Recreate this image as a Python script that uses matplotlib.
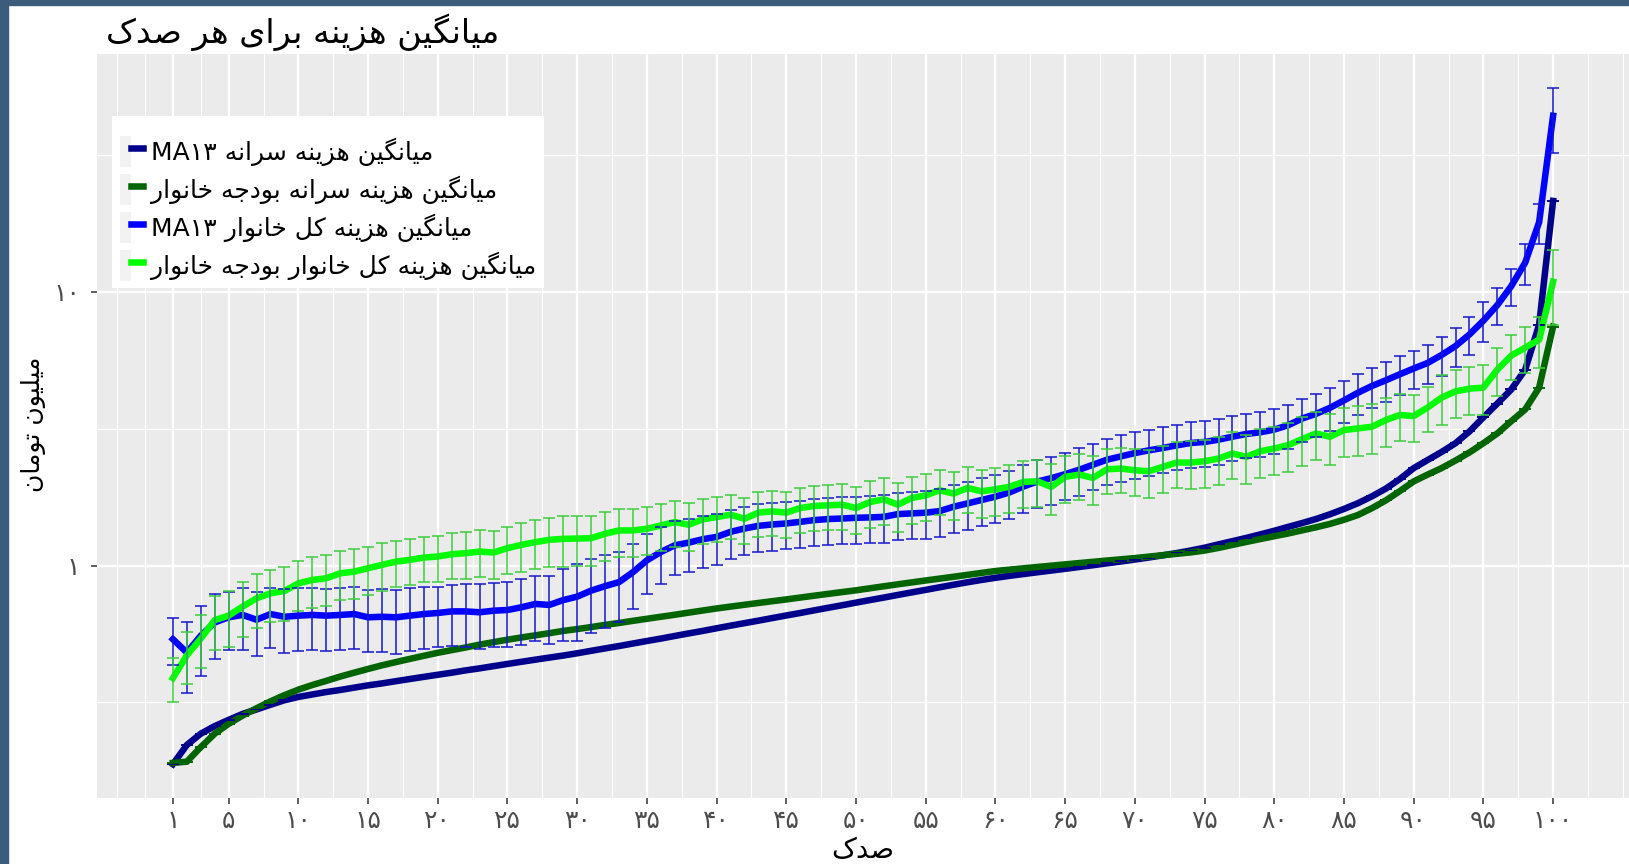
import matplotlib
matplotlib.use("Agg")
import numpy as np
import matplotlib.pyplot as plt
from matplotlib.lines import Line2D
from matplotlib.patches import Patch, Rectangle
from matplotlib.legend_handler import HandlerTuple
from matplotlib.ticker import FixedLocator, NullFormatter

# ---- Persian shaping (matplotlib has no bidi / contextual forms) ----
FORMS = {
    "ا": ("\uFE8D", "\uFE8E", None, None),
    "ب": ("\uFE8F", "\uFE90", "\uFE91", "\uFE92"),
    "ت": ("\uFE95", "\uFE96", "\uFE97", "\uFE98"),
    "ج": ("\uFE9D", "\uFE9E", "\uFE9F", "\uFEA0"),
    "خ": ("\uFEA5", "\uFEA6", "\uFEA7", "\uFEA8"),
    "د": ("\uFEA9", "\uFEAA", None, None),
    "ر": ("\uFEAD", "\uFEAE", None, None),
    "ز": ("\uFEAF", "\uFEB0", None, None),
    "س": ("\uFEB1", "\uFEB2", "\uFEB3", "\uFEB4"),
    "ص": ("\uFEB9", "\uFEBA", "\uFEBB", "\uFEBC"),
    "ل": ("\uFEDD", "\uFEDE", "\uFEDF", "\uFEE0"),
    "م": ("\uFEE1", "\uFEE2", "\uFEE3", "\uFEE4"),
    "ن": ("\uFEE5", "\uFEE6", "\uFEE7", "\uFEE8"),
    "ه": ("\uFEE9", "\uFEEA", "\uFEEB", "\uFEEC"),
    "و": ("\uFEED", "\uFEEE", None, None),
    "ک": ("\uFB8E", "\uFB8F", "\uFB90", "\uFB91"),
    "گ": ("\uFB92", "\uFB93", "\uFB94", "\uFB95"),
    "ی": ("\uFBFC", "\uFBFD", "\uFBFE", "\uFBFF"),
}


def shape_word(w):
    out = []
    for i, ch in enumerate(w):
        if ch not in FORMS:
            out.append(ch)
            continue
        prev = w[i - 1] if i > 0 else None
        nxt = w[i + 1] if i + 1 < len(w) else None
        join_prev = prev in FORMS and FORMS[prev][2] is not None
        join_next = nxt in FORMS and FORMS[ch][2] is not None
        iso, fin, ini, med = FORMS[ch]
        if join_prev and join_next:
            out.append(med)
        elif join_prev:
            out.append(fin)
        elif join_next:
            out.append(ini)
        else:
            out.append(iso)
    return "".join(out)


def fa(text):
    words = text.split(" ")
    vis = []
    for w in words:
        if any(c in FORMS for c in w):
            vis.append(shape_word(w)[::-1])
        else:
            vis.append(w)
    return " ".join(reversed(vis))


# ======= DATA =======
pct = list(range(1, 101))

navy_ma13 = [
    0.188, 0.221, 0.243, 0.259, 0.273, 0.287, 0.298, 0.310, 0.322, 0.331,
    0.338, 0.345, 0.351, 0.358, 0.365, 0.371, 0.378, 0.385, 0.392, 0.399,
    0.406, 0.414, 0.421, 0.429, 0.437, 0.445, 0.453, 0.461, 0.469, 0.478,
    0.488, 0.498, 0.508, 0.519, 0.530, 0.541, 0.553, 0.565, 0.577, 0.590,
    0.603, 0.616, 0.629, 0.643, 0.657, 0.671, 0.686, 0.701, 0.716, 0.732,
    0.748, 0.764, 0.781, 0.798, 0.815, 0.833, 0.851, 0.869, 0.886, 0.902,
    0.917, 0.931, 0.945, 0.959, 0.973, 0.988, 1.003, 1.019, 1.035, 1.052,
    1.070, 1.090, 1.111, 1.135, 1.162, 1.195, 1.228, 1.262, 1.300, 1.340,
    1.385, 1.430, 1.480, 1.540, 1.610, 1.690, 1.790, 1.910, 2.070, 2.270,
    2.430, 2.600, 2.800, 3.090, 3.480, 3.910, 4.400, 5.200, 7.600, 21.50,
]

dgreen_budget = [
    0.190, 0.192, 0.217, 0.243, 0.264, 0.283, 0.301, 0.319, 0.336, 0.352,
    0.366, 0.379, 0.393, 0.406, 0.419, 0.432, 0.444, 0.456, 0.468, 0.480,
    0.491, 0.502, 0.514, 0.525, 0.536, 0.546, 0.556, 0.566, 0.577, 0.586,
    0.596, 0.607, 0.617, 0.628, 0.639, 0.650, 0.661, 0.673, 0.685, 0.697,
    0.708, 0.719, 0.730, 0.741, 0.752, 0.764, 0.776, 0.788, 0.800, 0.812,
    0.826, 0.840, 0.854, 0.868, 0.882, 0.896, 0.910, 0.925, 0.940, 0.955,
    0.966, 0.977, 0.988, 0.999, 1.010, 1.021, 1.032, 1.043, 1.054, 1.065,
    1.078, 1.091, 1.104, 1.117, 1.135, 1.160, 1.190, 1.220, 1.250, 1.280,
    1.310, 1.345, 1.380, 1.420, 1.470, 1.530, 1.620, 1.730, 1.870, 2.030,
    2.150, 2.270, 2.420, 2.590, 2.800, 3.040, 3.370, 3.720, 4.470, 7.470,
]

blue_ma13 = [
    0.538, 0.481, 0.554, 0.620, 0.647, 0.660, 0.634, 0.665, 0.650, 0.656,
    0.660, 0.656, 0.660, 0.665, 0.647, 0.650, 0.647, 0.656, 0.665, 0.671,
    0.680, 0.680, 0.675, 0.684, 0.688, 0.704, 0.724, 0.718, 0.748, 0.770,
    0.810, 0.841, 0.870, 0.946, 1.045, 1.121, 1.186, 1.213, 1.248, 1.273,
    1.328, 1.366, 1.397, 1.413, 1.425, 1.445, 1.466, 1.479, 1.486, 1.495,
    1.499, 1.507, 1.542, 1.551, 1.560, 1.582, 1.641, 1.687, 1.736, 1.786,
    1.850, 1.944, 2.028, 2.086, 2.158, 2.239, 2.336, 2.437, 2.506, 2.577,
    2.636, 2.689, 2.750, 2.805, 2.829, 2.884, 2.958, 3.027, 3.070, 3.140,
    3.258, 3.446, 3.585, 3.772, 4.013, 4.282, 4.530, 4.754, 5.000, 5.250,
    5.500, 5.880, 6.340, 6.990, 7.850, 8.950, 10.50, 12.80, 18.00, 44.00,
]

blue_err = [
    0.105, 0.140, 0.160, 0.165, 0.155, 0.170, 0.165, 0.166, 0.170, 0.170,
    0.168, 0.168, 0.170, 0.168, 0.165, 0.168, 0.170, 0.170, 0.168, 0.165,
    0.170, 0.175, 0.178, 0.180, 0.185, 0.190, 0.195, 0.200, 0.220, 0.240,
    0.245, 0.248, 0.250, 0.250, 0.260, 0.262, 0.265, 0.265, 0.268, 0.270,
    0.272, 0.275, 0.275, 0.278, 0.280, 0.282, 0.285, 0.288, 0.290, 0.292,
    0.295, 0.298, 0.300, 0.305, 0.310, 0.315, 0.325, 0.335, 0.345, 0.360,
    0.375, 0.390, 0.405, 0.415, 0.425, 0.440, 0.455, 0.470, 0.485, 0.500,
    0.505, 0.510, 0.520, 0.530, 0.540, 0.548, 0.555, 0.565, 0.572, 0.580,
    0.600, 0.620, 0.645, 0.670, 0.700, 0.730, 0.760, 0.790, 0.815, 0.840,
    0.900, 0.970, 1.040, 1.100, 1.300, 1.400, 1.600, 2.200, 3.000, 11.70,
]

green_budget = [
    0.388, 0.470, 0.541, 0.632, 0.656, 0.708, 0.759, 0.792, 0.807, 0.861,
    0.886, 0.899, 0.937, 0.950, 0.978, 1.006, 1.034, 1.049, 1.070, 1.079,
    1.100, 1.110, 1.125, 1.116, 1.158, 1.190, 1.218, 1.242, 1.252, 1.255,
    1.259, 1.307, 1.344, 1.344, 1.363, 1.402, 1.442, 1.410, 1.475, 1.504,
    1.534, 1.483, 1.561, 1.578, 1.561, 1.623, 1.651, 1.660, 1.669, 1.623,
    1.707, 1.746, 1.669, 1.766, 1.806, 1.884, 1.832, 1.921, 1.868, 1.900,
    1.940, 2.021, 2.032, 1.938, 2.109, 2.150, 2.091, 2.249, 2.262, 2.230,
    2.211, 2.294, 2.379, 2.379, 2.406, 2.461, 2.568, 2.497, 2.618, 2.679,
    2.755, 2.898, 3.040, 2.955, 3.127, 3.171, 3.216, 3.402, 3.549, 3.520,
    3.780, 4.110, 4.330, 4.430, 4.470, 5.200, 5.850, 6.260, 6.690, 10.90,
]

green_err = [
    0.070, 0.100, 0.120, 0.140, 0.150, 0.160, 0.170, 0.170, 0.180, 0.180,
    0.185, 0.190, 0.190, 0.195, 0.195, 0.200, 0.200, 0.200, 0.200, 0.205,
    0.210, 0.215, 0.220, 0.225, 0.230, 0.240, 0.250, 0.255, 0.260, 0.260,
    0.262, 0.264, 0.265, 0.268, 0.270, 0.272, 0.274, 0.276, 0.278, 0.280,
    0.284, 0.288, 0.292, 0.296, 0.300, 0.304, 0.308, 0.312, 0.316, 0.320,
    0.330, 0.335, 0.340, 0.348, 0.355, 0.360, 0.365, 0.370, 0.375, 0.380,
    0.390, 0.395, 0.400, 0.405, 0.410, 0.415, 0.420, 0.425, 0.428, 0.430,
    0.440, 0.450, 0.460, 0.470, 0.480, 0.490, 0.500, 0.510, 0.525, 0.540,
    0.560, 0.580, 0.600, 0.620, 0.640, 0.660, 0.670, 0.680, 0.690, 0.690,
    0.700, 0.860, 0.860, 0.880, 0.920, 1.030, 1.100, 1.200, 1.400, 3.300,
]

labels = [
    "میانگین هزینه سرانه MA۱۳",
    "میانگین هزینه سرانه بودجه خانوار",
    "میانگین هزینه کل خانوار MA۱۳",
    "میانگین هزینه کل خانوار بودجه خانوار",
]
colors = ["#00008B", "#006400", "#0000FF", "#00FF00"]
bar_colors = ["#00008B", "#006400", "#1515D0", "#3CCF3C"]

x_ticks = [1, 5, 10, 15, 20, 25, 30, 35, 40, 45, 50, 55, 60, 65, 70, 75, 80, 85, 90, 95, 100]
x_tick_labels = ["۱", "۵", "۱۰", "۱۵", "۲۰", "۲۵", "۳۰", "۳۵", "۴۰", "۴۵", "۵۰",
                 "۵۵", "۶۰", "۶۵", "۷۰", "۷۵", "۸۰", "۸۵", "۹۰", "۹۵", "۱۰۰"]
y_ticks = [1, 10]
y_tick_labels = ["۱", "۱۰"]

title = "میانگین هزینه برای هر صدک"
xlab = "صدک"
ylab = "میلیون تومان"

# ======= FIGURE =======
plt.rcParams["font.family"] = ["DejaVu Sans"]
W, H = 1629, 864
fig = plt.figure(figsize=(W / 100, H / 100), dpi=100)
ax = fig.add_axes([97 / W, 1 - 798 / H, (W - 97) / W, (798 - 54) / H])
ax.set_facecolor("#EBEBEB")
for s in ax.spines.values():
    s.set_visible(False)

series = [navy_ma13, dgreen_budget, blue_ma13, green_budget]
errs = [[0.0] * len(pct), [0.0] * len(pct), blue_err, green_err]

for vals, c in zip(series, colors):
    ax.plot(pct, vals, color=c, lw=4.7, solid_joinstyle="round", zorder=3)
for vals, e, c in zip(series, errs, bar_colors):
    ax.errorbar(pct, vals, yerr=e, fmt="none", ecolor=c, elinewidth=1.1,
                capsize=4.5, capthick=1.1, zorder=4)

ax.set_yscale("log")

# ggplot-like limits: errorbar width 0.9 and 5% expansion
lo_x, hi_x = min(pct) - 0.45, max(pct) + 0.45
pad_x = 0.05 * (hi_x - lo_x)
ax.set_xlim(lo_x - pad_x, hi_x + pad_x)
lows = [np.array(v) - np.array(e) for v, e in zip(series, errs)]
highs = [np.array(v) + np.array(e) for v, e in zip(series, errs)]
lmin = np.log10(min(a.min() for a in lows))
lmax = np.log10(max(a.max() for a in highs))
pad_y = 0.05 * (lmax - lmin)
ax.set_ylim(10 ** (lmin - pad_y), 10 ** (lmax + pad_y))

ax.xaxis.set_major_locator(FixedLocator(x_ticks))
ax.set_xticklabels(x_tick_labels)
x_minor = [-3, -1, 3] + [v + 2.5 for v in x_ticks[1:]] + [105]
ax.xaxis.set_minor_locator(FixedLocator(x_minor))
ax.yaxis.set_major_locator(FixedLocator(y_ticks))
ax.set_yticklabels(y_tick_labels)
ax.yaxis.set_minor_locator(FixedLocator([10 ** -0.5, 10 ** 0.5, 10 ** 1.5]))
ax.yaxis.set_minor_formatter(NullFormatter())

ax.grid(which="major", color="white", lw=1.7, zorder=0)
ax.grid(which="minor", color="white", lw=0.8, zorder=0)
ax.set_axisbelow(True)
ax.tick_params(which="major", length=4, width=1.1, color="#333333",
               labelcolor="#4D4D4D", labelsize=18, pad=4)
ax.tick_params(axis="y", pad=8)
ax.tick_params(which="minor", length=0)

# legend
handles = [(Patch(facecolor="#F2F2F2", edgecolor="none"),
            Line2D([], [], color=c, lw=4.7)) for c in colors]
leg = ax.legend(handles, [fa(l) for l in labels],
                handler_map={tuple: HandlerTuple(ndivide=None, pad=0)},
                loc="upper left", bbox_to_anchor=((112 - 97) / (W - 97), 1 - (116 - 54) / (798 - 54)),
                borderaxespad=0, frameon=True, fancybox=False, framealpha=1,
                facecolor="white", edgecolor="none", fontsize=18,
                handlelength=0.95, handleheight=1.5, labelspacing=0.3,
                handletextpad=0.3, borderpad=0.3,
                title=" ", title_fontsize=4)

# titles
fig.text(106 / W, 1 - 32 / H, fa(title), fontsize=24, ha="left", va="center")
fig.text((97 + W) / 2 / W, 1 - 850 / H, fa(xlab), fontsize=20, ha="center", va="center")
fig.text(34 / W, 1 - 424 / H, fa(ylab), fontsize=18, ha="center", va="center", rotation=90)

# slide border (dark strip at left and top)
fig.add_artist(Rectangle((0, 0), 8 / W, 1, transform=fig.transFigure,
                         color="#3B5D7B", zorder=10))
fig.add_artist(Rectangle((0, 1 - 5 / H), 1, 5 / H, transform=fig.transFigure,
                         color="#3B5D7B", zorder=10))

fig.savefig("out.png", dpi=100)
